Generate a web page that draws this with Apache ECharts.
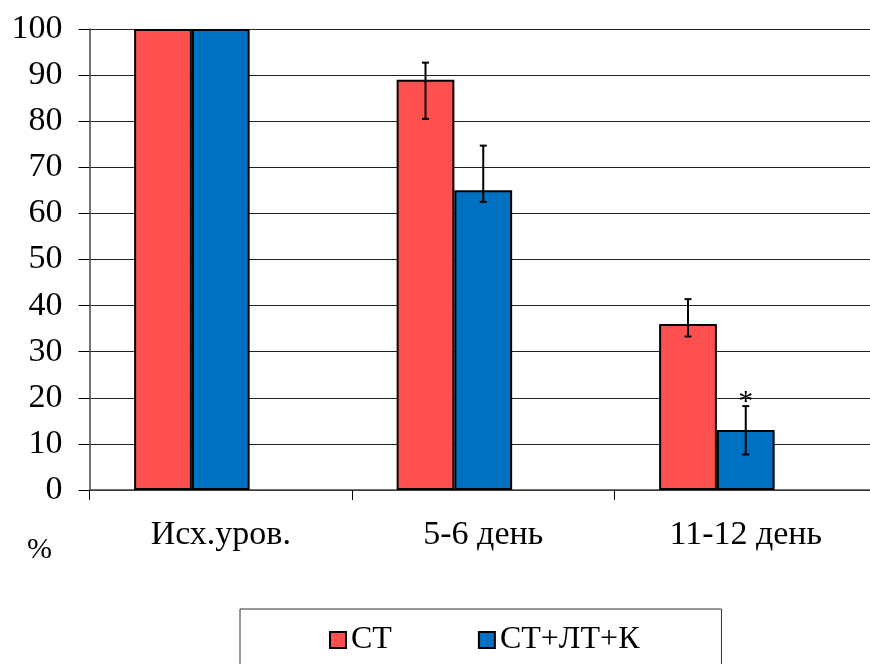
<!DOCTYPE html>
<html>
<head>
<meta charset="utf-8">
<script src="https://cdn.jsdelivr.net/npm/echarts@6/dist/echarts.min.js"></script>
<style>
  html, body { margin: 0; padding: 0; background: #fff; overflow: hidden; width: 870px; height: 664px; }
  /* plot area runs past the right edge, so the canvas is a little wider than the page */
  #chart { width: 878px; height: 664px; }
</style>
</head>
<body>
<div id="chart"></div>
<script>
// Groups along the x axis
const categories = ['Исх.уров.', '5-6 день', '11-12 день'];

// Series names
const seriesNames = ['СТ', 'СТ+ЛТ+К'];

// Bar heights, %
const stValues = [100, 89, 36];
const stLtKValues = [100, 65, 13];

// Error bar ends (upper / lower), % ; null = no error bar
const stErrHigh = [null, 92.7, 41.4];
const stErrLow = [null, 80.5, 33.3];
const stLtKErrHigh = [null, 74.7, 18.2];
const stLtKErrLow = [null, 62.5, 7.7];

// Significance marks above the СТ+ЛТ+К error bars
const stLtKMarks = ['', '', '*'];

// Y axis ticks
const yMin = 0, yMax = 100, yStep = 10;

const FONT = "'Liberation Serif', 'Times New Roman', 'DejaVu Serif', serif";
const RED = '#FF5050';
const BLUE = '#0070C0';
const CAT_GAP = 0.34;   // share of category band left empty
const SLOTS = 3;        // bar slots per category (third one left empty)

function errorData(high, low, marks) {
  const out = [];
  high.forEach((h, i) => {
    if (h != null) out.push([i, h, low[i], marks ? marks[i] : '']);
  });
  return out;
}

function errorSeries(data, slot) {
  return {
    type: 'custom',
    z: 5,
    silent: true,
    encode: { x: 0, y: [1, 2] },
    data: data,
    renderItem: function (params, api) {
      const idx = api.value(0);
      const hi = api.coord([idx, api.value(1)]);
      const lo = api.coord([idx, api.value(2)]);
      const band = api.size([1, 0])[0];
      const barW = band * (1 - CAT_GAP) / SLOTS;
      const x = hi[0] + (slot - (SLOTS - 1) / 2) * barW;
      const cap = 3.5;
      const st = { stroke: '#000', lineWidth: 2 };
      const children = [
        { type: 'line', shape: { x1: x, y1: hi[1], x2: x, y2: lo[1] }, style: st },
        { type: 'line', shape: { x1: x - cap, y1: hi[1], x2: x + cap, y2: hi[1] }, style: st },
        { type: 'line', shape: { x1: x - cap, y1: lo[1], x2: x + cap, y2: lo[1] }, style: st }
      ];
      const mark = api.value(3);
      if (mark) {
        children.push({
          type: 'text',
          style: {
            text: mark, x: x, y: hi[1] - 4,
            align: 'center', verticalAlign: 'middle',
            font: '30px ' + FONT, fill: '#000'
          }
        });
      }
      return { type: 'group', children: children };
    }
  };
}

const chart = echarts.init(document.getElementById('chart'), null, { renderer: 'canvas' });

chart.setOption({
  animation: false,
  backgroundColor: '#fff',
  textStyle: { fontFamily: FONT, color: '#000' },
  grid: { left: 89.5, top: 29, width: 787.5, height: 461, containLabel: false },
  xAxis: {
    type: 'category',
    data: categories,
    axisLine: { lineStyle: { color: '#444', width: 1.5 } },
    axisTick: { show: true, length: 10, alignWithLabel: false, lineStyle: { color: '#000', width: 1 } },
    axisLabel: { fontFamily: FONT, fontSize: 34, color: '#000', margin: 28, interval: 0 },
    splitLine: { show: false }
  },
  yAxis: {
    type: 'value',
    min: yMin, max: yMax, interval: yStep,
    axisLine: { show: true, lineStyle: { color: '#444', width: 1.5 } },
    axisTick: { show: true, length: 11, lineStyle: { color: '#000', width: 1 } },
    axisLabel: { fontFamily: FONT, fontSize: 34, color: '#000', margin: 27 },
    splitLine: { show: true, lineStyle: { color: '#222', width: 1.2 } }
  },
  legend: {
    data: seriesNames,
    left: 240, top: 609,
    orient: 'horizontal',
    icon: 'rect',
    itemWidth: 16, itemHeight: 16,
    itemGap: 86,
    padding: [14, 82, 40, 89],
    borderColor: '#333', borderWidth: 1,
    textStyle: { fontFamily: FONT, fontSize: 32, color: '#000', lineHeight: 34 }
  },
  graphic: [
    {
      type: 'text', left: 27, top: 535,
      style: { text: '%', font: '30px ' + FONT, fill: '#000' }
    }
  ],
  series: [
    {
      name: seriesNames[0], type: 'bar', data: stValues,
      barGap: '0%', barCategoryGap: (CAT_GAP * 100) + '%',
      itemStyle: { color: RED, borderColor: '#000', borderWidth: 2 }
    },
    {
      name: seriesNames[1], type: 'bar', data: stLtKValues,
      itemStyle: { color: BLUE, borderColor: '#000', borderWidth: 2 }
    },
    {
      // empty third slot keeps the bar pair off-centre within each group
      name: '', type: 'bar', data: categories.map(() => null)
    },
    errorSeries(errorData(stErrHigh, stErrLow), 0),
    errorSeries(errorData(stLtKErrHigh, stLtKErrLow, stLtKMarks), 1)
  ]
});
</script>
</body>
</html>
